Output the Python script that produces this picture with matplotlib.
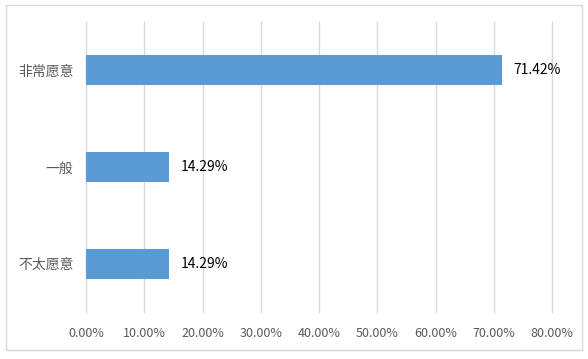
import matplotlib
matplotlib.use('Agg')
import matplotlib.pyplot as plt
from matplotlib.patches import Rectangle
from matplotlib.ticker import FuncFormatter

# 数据
categories = ['不太愿意', '一般', '非常愿意']
values = [14.29, 14.29, 71.42]
x_ticks = [0, 10, 20, 30, 40, 50, 60, 70, 80]

plt.rcParams['font.family'] = ['Noto Sans CJK SC', 'DejaVu Sans']

fig = plt.figure(figsize=(5.88, 3.59), dpi=100)
ax = fig.add_axes([86 / 588, 1 - 312 / 359, (552 - 86) / 588, (312 - 22) / 359])

pos = range(len(categories))
ax.barh(pos, values, height=0.31, color='#5B9BD5', zorder=3)

for p, v in zip(pos, values):
    ax.text(v + 1.9, p, f'{v:.2f}%', va='center', ha='left', fontsize=10, color='black')

ax.set_xlim(0, 80)
ax.set_ylim(-0.5, 2.5)
ax.set_xticks(x_ticks)
ax.xaxis.set_major_formatter(FuncFormatter(lambda x, _: f'{x:.2f}%'))
ax.set_yticks(list(pos))
ax.set_yticklabels(categories)

ax.grid(axis='x', color='#D9D9D9', linewidth=1, zorder=0)
for line in ax.get_xgridlines():
    line.set_clip_on(False)
for s in ax.spines.values():
    s.set_visible(False)
ax.tick_params(axis='x', length=0, pad=11, labelsize=9, labelcolor='#595959')
ax.tick_params(axis='y', length=0, pad=9, labelsize=10, labelcolor='#595959')

# 外框
fig.patches.append(Rectangle((6 / 588, 1 - 350 / 359), 576 / 588, 345 / 359,
                             transform=fig.transFigure, fill=False,
                             edgecolor='#D9D9D9', linewidth=1))

fig.savefig('out.png', dpi=100)
